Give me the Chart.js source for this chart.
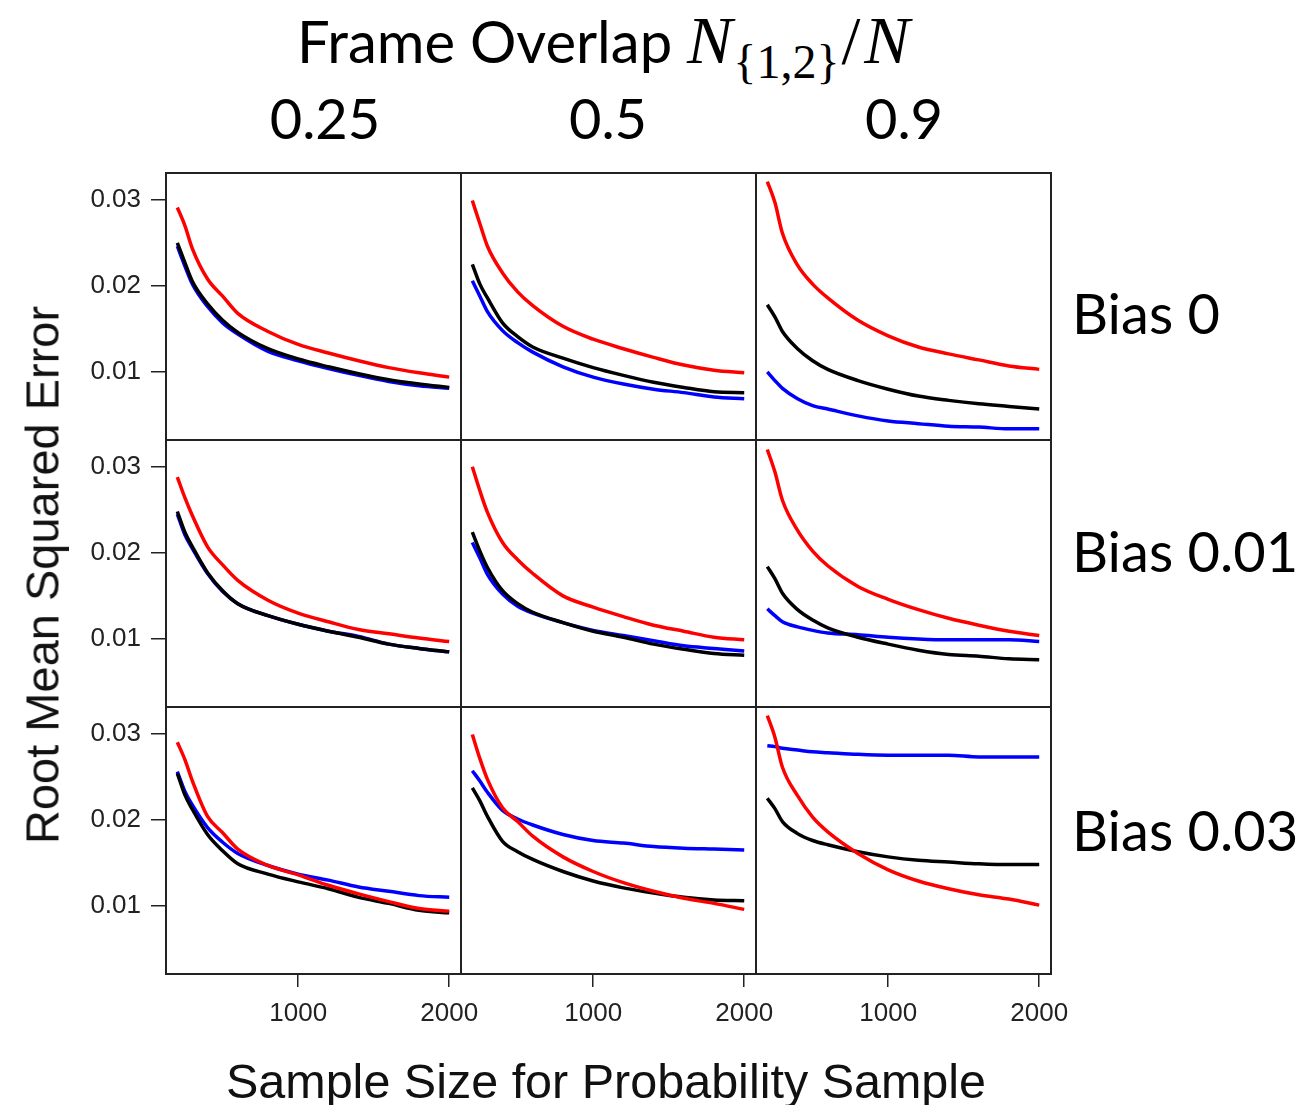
<!DOCTYPE html>
<html>
<head>
<meta charset="utf-8">
<script src="https://cdn.jsdelivr.net/npm/chart.js@4.4.1/dist/chart.umd.min.js"></script>
<style>
  body { margin: 0; background: #fff; }
  #page { position: relative; width: 1306px; height: 1105px; overflow: hidden; background: #fff; }
  canvas { position: absolute; }
  .lbl { position: absolute; line-height: 1; white-space: nowrap; color: #000; z-index: 2; }
  .cal { font-family: Lato, "Noto Sans", sans-serif; }
  .ari { font-family: "Liberation Sans", Arial, sans-serif; color: #111; }
  .math { font-family: "Liberation Serif", serif; font-size: 68px; }
  .math sub { font-style: normal; font-size: 48px; vertical-align: -15px; margin-left: 1px; }
  .math .sl { margin: 0 4px 0 2px; }
  .mid { transform: translateX(-50%); }
</style>
</head>
<body>
<div id="page">
  <div class="lbl cal" style="left:297px;top:6px;font-size:58px">Frame Overlap <span class="math"><i>N</i><sub>{1,2}</sub><span class="sl">/</span><i>N</i></span></div>
  <div class="lbl cal mid" id="col0" style="top:90px;font-size:56px"></div>
  <div class="lbl cal mid" id="col1" style="top:90px;font-size:56px"></div>
  <div class="lbl cal mid" id="col2" style="top:90px;font-size:56px"></div>
  <div class="lbl cal" id="row0" style="left:1072px;top:285px;font-size:56px"></div>
  <div class="lbl cal" id="row1" style="left:1072px;top:523px;font-size:56px"></div>
  <div class="lbl cal" id="row2" style="left:1072px;top:802px;font-size:56px"></div>
  <div class="lbl ari" style="left:42px;top:575px;font-size:47px;transform:translate(-50%,-50%) rotate(-90deg)">Root Mean Squared Error</div>
  <div class="lbl ari mid" style="left:606px;top:1057px;font-size:48.5px">Sample Size for Probability Sample</div>
</div>
<script>
// x values (sample size) shared by every curve
const sampleSizes = [200, 250, 300, 400, 500, 600, 800, 1000, 1200, 1400, 1600, 1800, 2000];
const overlaps = ['0.25', '0.5', '0.9'];
const biases = ['Bias 0', 'Bias 0.01', 'Bias 0.03'];
const yTicks = [0.01, 0.02, 0.03];
const xTicks = [1000, 2000];

// ===== Bias 0 =====
const red_b0_o25   = [0.0291, 0.0270, 0.0243, 0.0208, 0.0188, 0.0168, 0.0147, 0.0132, 0.0122, 0.0113, 0.0105, 0.0099, 0.0094];
const black_b0_o25 = [0.0250, 0.0227, 0.0205, 0.0179, 0.0160, 0.0146, 0.0127, 0.0115, 0.0106, 0.0098, 0.0091, 0.0086, 0.0082];
const blue_b0_o25  = [0.0246, 0.0223, 0.0202, 0.0176, 0.0157, 0.0144, 0.0124, 0.0113, 0.0104, 0.0096, 0.0089, 0.0084, 0.0081];

const red_b0_o5    = [0.0299, 0.0272, 0.0246, 0.0215, 0.0193, 0.0177, 0.0153, 0.0138, 0.0127, 0.0117, 0.0108, 0.0102, 0.0099];
const black_b0_o5  = [0.0225, 0.0202, 0.0186, 0.0157, 0.0141, 0.0129, 0.0116, 0.0105, 0.0096, 0.0088, 0.0082, 0.0077, 0.0076];
const blue_b0_o5   = [0.0206, 0.0188, 0.0170, 0.0148, 0.0134, 0.0123, 0.0106, 0.0094, 0.0086, 0.0080, 0.0076, 0.0071, 0.0069];

const red_b0_o9    = [0.0321, 0.0297, 0.0261, 0.0224, 0.0202, 0.0186, 0.0160, 0.0142, 0.0129, 0.0121, 0.0114, 0.0107, 0.0103];
const black_b0_o9  = [0.0178, 0.0164, 0.0147, 0.0127, 0.0113, 0.0103, 0.0090, 0.0080, 0.0072, 0.0067, 0.0063, 0.0060, 0.0057];
const blue_b0_o9   = [0.0100, 0.0090, 0.0081, 0.0069, 0.0061, 0.0057, 0.0049, 0.0043, 0.0040, 0.0037, 0.0036, 0.0034, 0.0034];

// ===== Bias 0.01 =====
const red_b1_o25   = [0.0288, 0.0264, 0.0243, 0.0207, 0.0186, 0.0168, 0.0145, 0.0130, 0.0120, 0.0111, 0.0106, 0.0101, 0.0097];
const black_b1_o25 = [0.0248, 0.0224, 0.0207, 0.0177, 0.0156, 0.0141, 0.0127, 0.0117, 0.0109, 0.0102, 0.0094, 0.0089, 0.0085];
const blue_b1_o25  = [0.0245, 0.0221, 0.0205, 0.0176, 0.0155, 0.0141, 0.0127, 0.0117, 0.0109, 0.0103, 0.0094, 0.0089, 0.0085];

const red_b1_o5    = [0.0300, 0.0272, 0.0247, 0.0212, 0.0192, 0.0176, 0.0150, 0.0137, 0.0126, 0.0116, 0.0109, 0.0102, 0.0099];
const black_b1_o5  = [0.0224, 0.0202, 0.0183, 0.0156, 0.0141, 0.0131, 0.0119, 0.0109, 0.0102, 0.0094, 0.0088, 0.0083, 0.0081];
const blue_b1_o5   = [0.0212, 0.0194, 0.0175, 0.0152, 0.0138, 0.0130, 0.0119, 0.0110, 0.0104, 0.0098, 0.0092, 0.0089, 0.0086];

const red_b1_o9    = [0.0320, 0.0294, 0.0261, 0.0226, 0.0202, 0.0185, 0.0161, 0.0146, 0.0134, 0.0124, 0.0116, 0.0109, 0.0104];
const black_b1_o9  = [0.0184, 0.0170, 0.0153, 0.0134, 0.0122, 0.0113, 0.0102, 0.0094, 0.0087, 0.0082, 0.0080, 0.0077, 0.0076];
const blue_b1_o9   = [0.0135, 0.0127, 0.0120, 0.0114, 0.0110, 0.0107, 0.0105, 0.0102, 0.0100, 0.0099, 0.0099, 0.0099, 0.0097];

// ===== Bias 0.03 =====
const red_b3_o25   = [0.0290, 0.0270, 0.0245, 0.0204, 0.0185, 0.0166, 0.0147, 0.0136, 0.0124, 0.0114, 0.0105, 0.0097, 0.0094];
const black_b3_o25 = [0.0254, 0.0229, 0.0212, 0.0183, 0.0164, 0.0149, 0.0137, 0.0128, 0.0120, 0.0110, 0.0103, 0.0095, 0.0092];
const blue_b3_o25  = [0.0256, 0.0233, 0.0217, 0.0191, 0.0174, 0.0161, 0.0147, 0.0137, 0.0130, 0.0122, 0.0117, 0.0112, 0.0110];

const red_b3_o5    = [0.0299, 0.0271, 0.0247, 0.0214, 0.0198, 0.0181, 0.0157, 0.0140, 0.0127, 0.0117, 0.0109, 0.0103, 0.0096];
const black_b3_o5  = [0.0237, 0.0222, 0.0204, 0.0175, 0.0163, 0.0154, 0.0140, 0.0129, 0.0121, 0.0115, 0.0110, 0.0107, 0.0106];
const blue_b3_o5   = [0.0257, 0.0245, 0.0232, 0.0211, 0.0201, 0.0194, 0.0183, 0.0176, 0.0173, 0.0169, 0.0167, 0.0166, 0.0165];

const red_b3_o9    = [0.0321, 0.0296, 0.0261, 0.0228, 0.0203, 0.0186, 0.0161, 0.0142, 0.0129, 0.0120, 0.0113, 0.0108, 0.0101];
const black_b3_o9  = [0.0225, 0.0213, 0.0198, 0.0184, 0.0176, 0.0171, 0.0163, 0.0157, 0.0153, 0.0151, 0.0149, 0.0148, 0.0148];
const blue_b3_o9   = [0.0286, 0.0285, 0.0283, 0.0281, 0.0279, 0.0278, 0.0276, 0.0275, 0.0275, 0.0275, 0.0273, 0.0273, 0.0273];

// rows = bias, cols = overlap; each cell lists red, black, blue (red drawn on top)
const panels = [
    [[red_b0_o25, black_b0_o25, blue_b0_o25], [red_b0_o5, black_b0_o5, blue_b0_o5], [red_b0_o9, black_b0_o9, blue_b0_o9]],
    [[red_b1_o25, black_b1_o25, blue_b1_o25], [red_b1_o5, black_b1_o5, blue_b1_o5], [red_b1_o9, black_b1_o9, blue_b1_o9]],
    [[red_b3_o25, black_b3_o25, blue_b3_o25], [red_b3_o5, black_b3_o5, blue_b3_o5], [red_b3_o9, black_b3_o9, blue_b3_o9]]
];
const lineColors = ['#ff0000', '#000000', '#0000ff'];

// ===== layout of the grid =====
const PLOT_LEFT = 166, PLOT_TOP = 173;
const PANEL_W = 295, PANEL_H = 267;
const PAD = 40, AXIS_W = 100, AXIS_H = 60;
const X_MIN = 125, X_MAX = 2078, Y_MIN = 0.0021, Y_MAX = 0.0331;
const COL_CENTERS = [325, 608, 904];
const tickFont = { family: '"Liberation Sans", Arial, sans-serif', size: 26 };

overlaps.forEach((t, c) => {
    const el = document.getElementById('col' + c);
    el.textContent = t;
    el.style.left = COL_CENTERS[c] + 'px';
});
biases.forEach((t, r) => { document.getElementById('row' + r).textContent = t; });

const panelBox = {
    id: 'panelBox',
    afterDraw(chart) {
        const { ctx, chartArea: a } = chart;
        ctx.save();
        ctx.strokeStyle = '#222';
        ctx.lineWidth = 2;
        ctx.strokeRect(a.left, a.top, a.right - a.left, a.bottom - a.top);
        ctx.restore();
    }
};

const page = document.getElementById('page');

function makePanel(r, c) {
    const hasY = c === 0;
    const hasX = r === panels.length - 1;
    const canvas = document.createElement('canvas');
    const w = PANEL_W + 2 * PAD + (hasY ? AXIS_W : 0);
    const h = PANEL_H + 2 * PAD + (hasX ? AXIS_H : 0);
    canvas.width = w;
    canvas.height = h;
    canvas.style.left = (PLOT_LEFT + c * PANEL_W - PAD - (hasY ? AXIS_W : 0)) + 'px';
    canvas.style.top = (PLOT_TOP + r * PANEL_H - PAD) + 'px';
    canvas.style.width = w + 'px';
    canvas.style.height = h + 'px';
    page.insertBefore(canvas, page.firstChild);

    const datasets = panels[r][c].map((vals, i) => ({
        data: sampleSizes.map((n, k) => ({ x: n, y: vals[k] })),
        borderColor: lineColors[i],
        borderWidth: 3.5,
        pointRadius: 0,
        fill: false,
        cubicInterpolationMode: 'monotone'
    }));

    new Chart(canvas, {
        type: 'line',
        data: { datasets },
        options: {
            responsive: false,
            animation: false,
            devicePixelRatio: 1,
            events: [],
            layout: { padding: PAD },
            plugins: { legend: { display: false }, tooltip: { enabled: false } },
            scales: {
                x: {
                    type: 'linear',
                    min: X_MIN, max: X_MAX,
                    display: hasX,
                    afterFit: s => { if (hasX) s.height = AXIS_H; },
                    afterBuildTicks: s => { s.ticks = xTicks.map(v => ({ value: v })); },
                    border: { display: false },
                    grid: { drawOnChartArea: false, drawTicks: true, tickLength: 13, color: '#222', lineWidth: 1.5 },
                    ticks: { font: tickFont, color: '#222', padding: 11, maxRotation: 0, autoSkip: false, callback: v => String(v) }
                },
                y: {
                    type: 'linear',
                    min: Y_MIN, max: Y_MAX,
                    display: hasY,
                    afterFit: s => { if (hasY) s.width = AXIS_W; },
                    afterBuildTicks: s => { s.ticks = yTicks.map(v => ({ value: v })); },
                    border: { display: false },
                    grid: { drawOnChartArea: false, drawTicks: true, tickLength: 15, color: '#222', lineWidth: 1.5 },
                    ticks: { font: tickFont, color: '#222', padding: 10, autoSkip: false, callback: v => v.toFixed(2) }
                }
            }
        },
        plugins: [panelBox]
    });
}

for (let r = 0; r < panels.length; r++) {
    for (let c = 0; c < panels[r].length; c++) makePanel(r, c);
}
</script>
</body>
</html>
